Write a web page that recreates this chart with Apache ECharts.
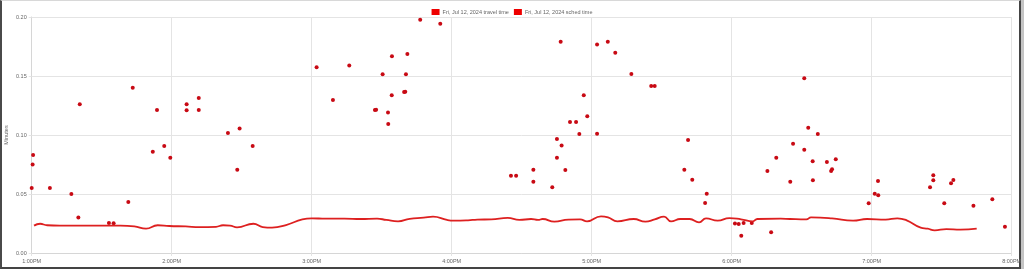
<!DOCTYPE html>
<html>
<head>
<meta charset="utf-8">
<script src="https://cdn.jsdelivr.net/npm/echarts@6/dist/echarts.min.js"></script>
<style>
html,body{margin:0;padding:0;width:1024px;height:269px;background:#c4c4c4;overflow:hidden;}
#frame{position:absolute;left:0;top:0;width:1021px;height:269px;box-sizing:border-box;background:#fff;border-left:2px solid #4a4a4a;border-top:1px solid #d8d8d8;border-right:2px solid #444;border-bottom:2px solid #444;}
#chart{position:absolute;left:0;top:0;width:1024px;height:269px;}
</style>
</head>
<body>
<div id="frame"></div>
<div id="chart"></div>
<script>
// Minutes after 1:00 PM, Fri Jul 12 2024
const travelMin = [0,0.6,0.4,7.8,17.0,20.6,20.0,33.1,35.1,41.4,43.3,51.9,53.7,56.8,59.4,66.4,66.4,71.6,71.6,84.1,88.1,89.1,94.7,
  122.1,129.1,136.1,147.1,147.6,150.4,152.7,152.8,154.3,154.4,159.6,160.1,160.4,161.0,166.5,175.1,
  205.4,207.6,215.0,215.0,223.1,225.1,225.1,226.7,227.1,228.7,230.7,233.3,234.7,236.6,238.1,242.3,242.3,246.9,250.1,257.0,265.5,267.0,
  279.7,281.3,283.1,288.6,289.3,301.4,303.0,304.1,305.1,308.6,315.3,316.9,319.1,325.1,326.3,331.1,331.1,332.8,334.7,334.8,336.9,340.8,342.6,343.0,344.6,
  358.7,361.3,362.7,362.8,385.0,386.4,386.4,391.1,394.0,395.0,403.6,411.7,417.1];
const travelVal = [0.055,0.083,0.075,0.055,0.050,0.126,0.030,0.0254,0.0252,0.0432,0.140,0.0859,0.1212,0.0907,0.0808,0.126,0.121,0.1314,0.1212,0.1017,0.0706,0.1056,0.0907,
  0.1574,0.1297,0.159,0.1212,0.1215,0.1514,0.119,0.1093,0.1336,0.1667,0.1364,0.1367,0.1514,0.1686,0.1977,0.1943,
  0.0655,0.0655,0.0706,0.0604,0.0557,0.0966,0.0808,0.179,0.091,0.0703,0.111,0.111,0.1008,0.1336,0.1158,0.1766,0.1011,0.179,0.1698,0.1517,0.1415,0.1415,
  0.0706,0.0958,0.0621,0.0424,0.0503,0.0251,0.0246,0.0147,0.0254,0.0254,0.0695,0.0175,0.0808,0.0604,0.0926,0.148,0.0875,0.1062,0.0777,0.0616,0.1008,0.0771,0.0695,0.0709,0.0794,
  0.0421,0.0503,0.061,0.0489,0.0557,0.0658,0.0616,0.0421,0.0591,0.0619,0.0401,0.0455,0.0223];

const schedMin = [1,3.6,6.6,12,21,29,38,44,49,54,59,66,72,79,82,85,88,95,99,103,109,116,120,126,134,141,148,152,157,162,168,172,178,181,187,191,197,
  204,209,214,217,219,224,230,235,238,244,247,251,258,263,267,271,274,278,282,286,289,294,299,304,309,311,321,325,332,334,343,352,358,366,371,375,381,384,387,392,398,405];
const schedVal = [0.0232,0.0248,0.0235,0.0232,0.0232,0.0232,0.0232,0.0225,0.0206,0.0235,0.0229,0.0225,0.022,0.0222,0.0235,0.0232,0.0218,0.0248,0.022,0.0215,0.0237,0.0285,0.0294,0.0291,0.0291,0.0288,0.0291,0.028,0.0268,0.029,0.0299,0.0308,0.028,0.0274,0.0277,0.0283,0.0285,
  0.0297,0.028,0.0288,0.028,0.0288,0.0266,0.0283,0.0285,0.0268,0.0311,0.0302,0.0268,0.0288,0.0266,0.0285,0.0308,0.0268,0.0288,0.0288,0.026,0.0294,0.0274,0.0296,0.0285,0.0268,0.0288,0.0291,0.0288,0.0285,0.0302,0.0294,0.0274,0.0288,0.0283,0.0294,0.0277,0.0215,0.0206,0.0192,0.0203,0.0198,0.0206];

const hourLabels = ['1:00PM','2:00PM','3:00PM','4:00PM','5:00PM','6:00PM','7:00PM','8:00PM'];
const seriesNames = ['Fri, Jul 12, 2024 travel time','Fri, Jul 12, 2024 sched time'];

const gridColor = '#e4e4e4';
const txt = '#666';
const font = 'Liberation Sans, Arial, Helvetica, sans-serif';

const chart = echarts.init(document.getElementById('chart'), null, {renderer:'canvas'});
chart.setOption({
  animation:false,
  textStyle:{fontFamily:font},
  legend:{
    top:4, left:'center', itemWidth:8, itemHeight:6, itemGap:5,
    textStyle:{fontSize:5.5,color:txt,fontFamily:font,padding:[0,0,0,-2]},
    data:[{name:seriesNames[0],icon:'rect',itemStyle:{color:'#ee0000'}},{name:seriesNames[1],icon:'rect',itemStyle:{color:'#ee0000'}}]
  },
  grid:{left:31.7,right:12.3,top:17,bottom:16,containLabel:false,outerBoundsMode:'none'},
  xAxis:{
    type:'value',min:0,max:420,interval:60,
    axisLine:{show:true,lineStyle:{color:'#d6d6d6',width:1}},
    axisTick:{show:true,length:3,lineStyle:{color:gridColor}},
    splitLine:{show:true,lineStyle:{color:gridColor,width:1}},
    axisLabel:{fontSize:5.5,color:txt,margin:5,fontFamily:font,formatter:function(v){return hourLabels[Math.round(v/60)];}}
  },
  yAxis:{
    type:'value',min:0,max:0.2,interval:0.05,
    name:'Minutes',nameLocation:'middle',nameGap:22,nameRotate:90,nameMoveOverlap:false,
    nameTextStyle:{fontSize:5.5,color:txt,fontFamily:font},
    axisLine:{show:true,lineStyle:{color:'#d6d6d6',width:1}},
    axisTick:{show:true,length:3,lineStyle:{color:gridColor}},
    splitLine:{show:true,lineStyle:{color:gridColor,width:1}},
    axisLabel:{fontSize:5.5,color:txt,margin:5,fontFamily:font,formatter:function(v){return v.toFixed(2);}}
  },
  series:[
    {name:seriesNames[0],type:'scatter',symbol:'circle',symbolSize:4,
     itemStyle:{color:'#c80a14',opacity:1},
     data:travelMin.map((m,i)=>[m,travelVal[i]])},
    {name:seriesNames[1],type:'line',smooth:0.5,showSymbol:false,
     lineStyle:{color:'#dd2020',width:1.8},itemStyle:{color:'#dd2020'},
     data:schedMin.map((m,i)=>[m,schedVal[i]])}
  ]
});
</script>
</body>
</html>
